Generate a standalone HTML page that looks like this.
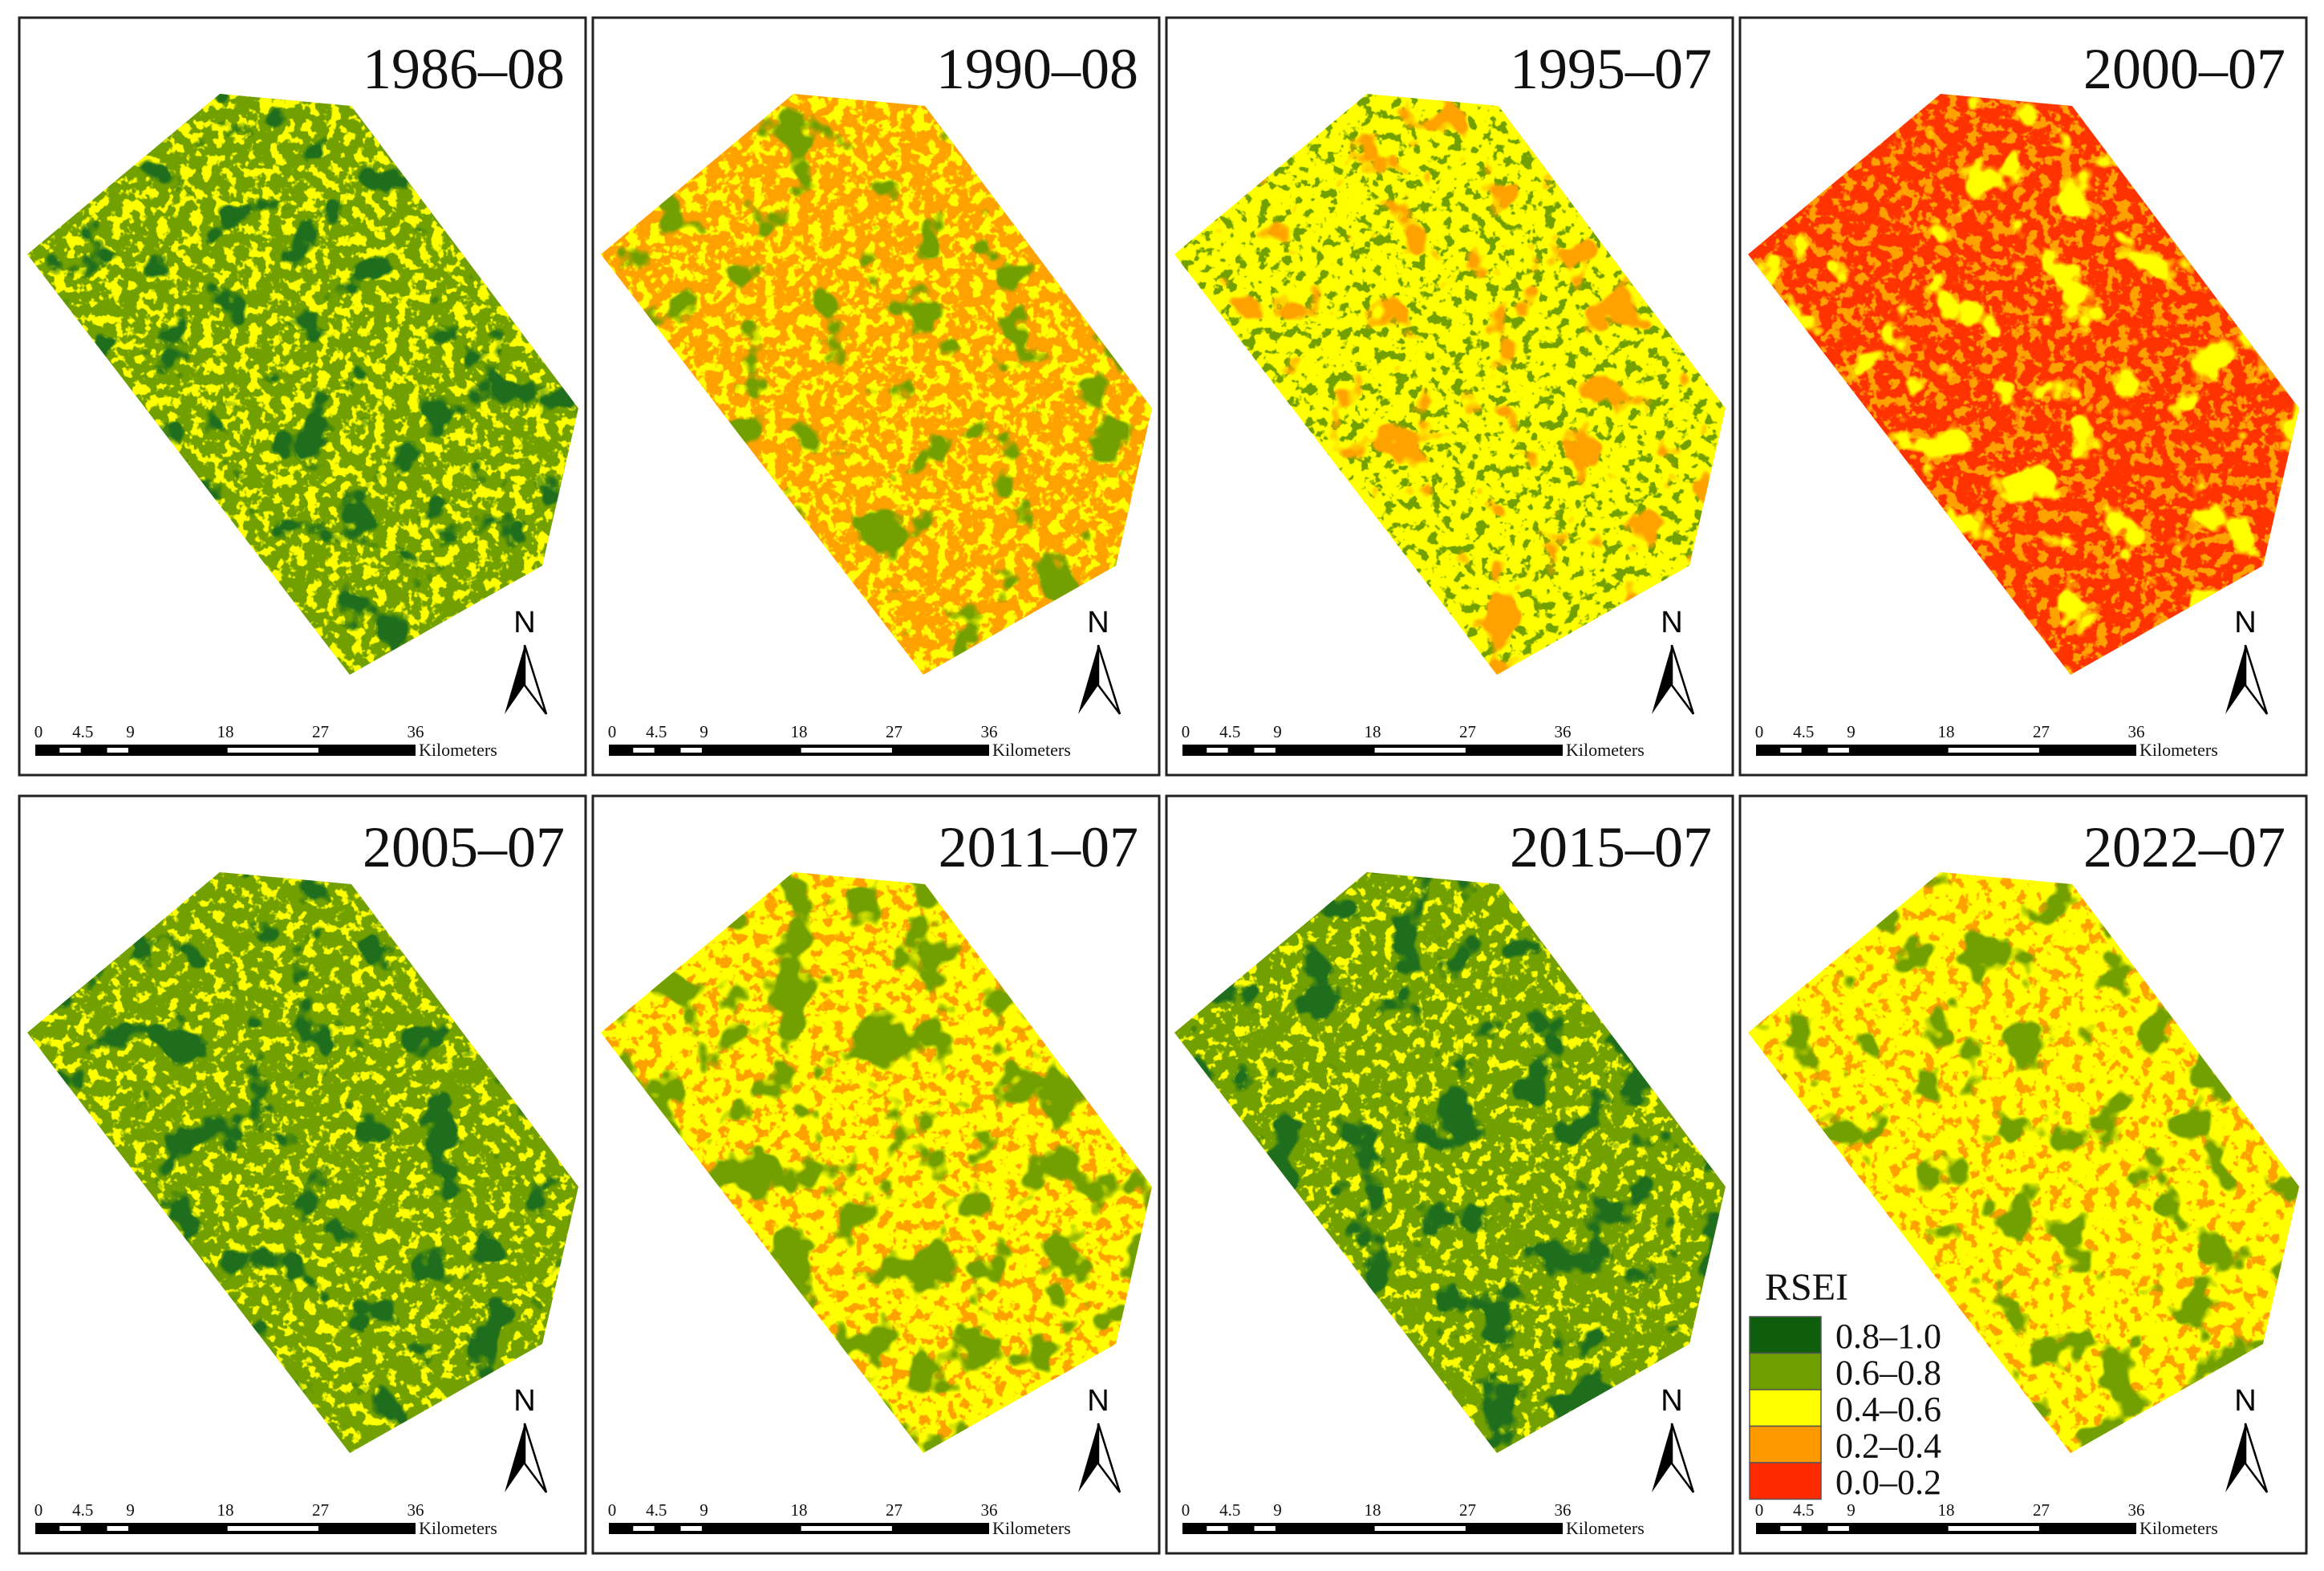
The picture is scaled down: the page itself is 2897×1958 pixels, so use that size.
<!DOCTYPE html>
<html><head><meta charset="utf-8">
<style>
html,body{margin:0;padding:0;background:#fff;}
body{width:2897px;height:1958px;position:relative;overflow:hidden;font-family:"Liberation Serif",serif;}
svg{position:absolute;left:0;top:0;}
</style></head>
<body>
<svg id="fig" width="2897" height="1958" viewBox="0 0 2897 1958"></svg>
<script>
const NS='http://www.w3.org/2000/svg';
// data
const titles=['1986–08','1990–08','1995–07','2000–07','2005–07','2011–07','2015–07','2022–07'];
const baseColors=['#72a000','#ffa200','#ffff00','#ff3300','#72a000','#ffff00','#72a000','#ffff00'];
const secondColors=['#ffff00','#ffff00','#72a000','#ffa200','#ffff00','#ffa200','#ffff00','#ffa200'];
const secondShare=[0.4,0.45,0.25,0.4,0.28,0.35,0.25,0.25];
const thirdColors=['#1e6e1e','#72a000','#ffa200','#ffff00','#1e6e1e','#72a000','#1e6e1e','#72a000'];
const thirdShare=[0.05,0.03,0.1,0.08,0.04,0.3,0.15,0.12];
const legendLabels=['0.8–1.0','0.6–0.8','0.4–0.6','0.2–0.4','0.0–0.2'];
const legendColors=['#0e5e0e','#6e9e00','#ffff00','#ff9900','#ff2a00'];
const scaleTicks=['0','4.5','9','18','27','36'];
const scaleKm=[0,4.5,9,18,27,36];

const colX=[24,739,1454,2169], rowY=[22,992], PW=706, PH=944;
const poly=[[250,95],[414,110],[697,487],[652,683],[412,819],[10,295]];
const kmPx=474/36;
const fig=document.getElementById('fig');
function mk(tag,attrs,parent){const e=document.createElementNS(NS,tag);for(const k in attrs)e.setAttribute(k,attrs[k]);(parent||fig).appendChild(e);return e;}
const defs=mk('defs',{});
function noiseFilter(id,color,share,freq,seed){
  const f=mk('filter',{id:id,x:'0',y:'0',width:'1',height:'1','color-interpolation-filters':'sRGB'},defs);
  mk('feTurbulence',{type:'fractalNoise',baseFrequency:freq,numOctaves:'3',seed:seed},f);
  const hex=color.replace('#','');const r=parseInt(hex.substr(0,2),16)/255,g=parseInt(hex.substr(2,2),16)/255,b=parseInt(hex.substr(4,2),16)/255;
  mk('feColorMatrix',{type:'matrix',values:`0 0 0 0 ${r} 0 0 0 0 ${g} 0 0 0 0 ${b} 12 0 0 0 ${(-12*(0.62-share*0.25)).toFixed(3)}`},f);
}
titles.forEach((t,i)=>{
  const px=colX[i%4], py=rowY[Math.floor(i/4)];
  const g=mk('g',{transform:`translate(${px},${py})`});
  
  
  const fr=mk('rect',{x:0,y:0,width:PW,height:PH,fill:'#fff',stroke:'#222','stroke-width':3},g);
  
  
  const cp=mk('clipPath',{id:'cp'+i},defs);
  mk('polygon',{points:poly.map(p=>p.join(',')).join(' ')},cp);
  noiseFilter('fa'+i,secondColors[i],secondShare[i],'0.07',i+3);
  noiseFilter('fb'+i,thirdColors[i],thirdShare[i],'0.018',i+11);
  const m=mk('g',{'clip-path':`url(#cp${i})`},g);
  
  
  mk('rect',{x:0,y:0,width:PW,height:PH,fill:baseColors[i]},m);
  mk('rect',{x:0,y:0,width:PW,height:PH,filter:`url(#fa${i})`},m);
  mk('rect',{x:0,y:0,width:PW,height:PH,filter:`url(#fb${i})`},m);
  const tt=mk('text',{x:680,y:88,'text-anchor':'end','font-size':72,fill:'#111','font-family':'Liberation Serif, serif'},g);
  tt.textContent=t;
  
  
  const na=mk('g',{},g);
  
  
  const nt=mk('text',{x:630,y:766,'text-anchor':'middle','font-size':38,'font-family':'Liberation Sans, sans-serif',fill:'#000'},na);
  nt.textContent='N';
  mk('polygon',{points:'630,782 605,868 630,832',fill:'#000'},na);
  mk('polygon',{points:'630,782 657,868 630,832',fill:'#fff',stroke:'#000','stroke-width':2.5},na);
  const sb=mk('g',{transform:'translate(20,0)'},g);
  
  
  mk('rect',{x:0,y:906,width:36*kmPx,height:14,fill:'#000'},sb);
  [[2.3,4.3],[6.8,8.8],[18.2,26.8]].forEach(s=>mk('rect',{x:s[0]*kmPx,y:910,width:(s[1]-s[0])*kmPx,height:6,fill:'#fff'},sb));
  scaleTicks.forEach((l,k)=>{const tx=mk('text',{x:scaleKm[k]*kmPx+(k==0?4:0),y:897,'text-anchor':'middle','font-size':21,fill:'#111'},sb);tx.textContent=l;});
  const km=mk('text',{x:36*kmPx+4,y:920,'font-size':22,fill:'#111'},sb);km.textContent='Kilometers';
});
const lg=mk('g',{transform:'translate(2169,992)'});


const lt=mk('text',{x:31,y:628,'font-size':48,fill:'#111'},lg);lt.textContent='RSEI';
legendLabels.forEach((l,k)=>{
  const r=mk('rect',{x:12,y:649+k*45.5,width:89,height:45.5,fill:legendColors[k],stroke:'#555','stroke-width':1.5},lg);
  
  
  const tx=mk('text',{x:119,y:688+k*45.5,'font-size':44,fill:'#111'},lg);tx.textContent=l;
  
  
});
</script>
</body></html>
